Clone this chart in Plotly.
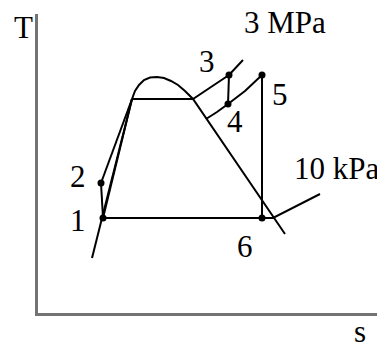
import plotly.graph_objects as go

# sketch coordinates: s (entropy) and T (temperature), arbitrary units
sat_liq_s = [54, 94]
sat_liq_T = [55, 214]

dome_s = [94, 97, 101, 106, 112, 119, 126, 133, 140, 147, 155, 247]
dome_T = [214, 222, 228, 233, 235.5, 236, 235, 232, 228, 222, 214, 79]

comp_liq_s = [63, 94]      # 2 -> saturated liquid at 3 MPa
comp_liq_T = [130, 214]
low_liq_s = [65, 94]
low_liq_T = [95, 214]

hp_s = [94, 155, 173, 191, 205]          # 3 MPa isobar
hp_T = [214, 214, 226, 238, 253]
mp_s = [168, 179, 190, 207, 224]         # reheat pressure isobar
mp_T = [194, 201, 209, 222, 238]
lp_s = [65, 235, 282]                    # 10 kPa isobar
lp_T = [95, 95, 119]

pump_s = [65, 63]
pump_T = [95, 130]
hpt_s = [191, 190]
hpt_T = [238, 209]
lpt_s = [224, 224]
lpt_T = [238, 95]

state_names = ["1", "2", "3", "4", "5", "6"]
state_s = [65, 63, 191, 190, 224, 224]
state_T = [95, 130, 238, 209, 238, 95]

labels = ["3 MPa", "3", "5", "4", "2", "1", "10 kPa", "6"]
label_s = [247, 169, 242, 197, 40, 40, 298, 207]
label_T = [291, 252, 219, 192, 137, 93, 145, 67]

# axis titles sit outside the plot area (paper coords)
axis_titles = ["T", "s"]
axis_title_x = [-0.0732, 0.907]
axis_title_y = [1.02, -0.127]
axis_title_xanchor = ["left", "center"]
axis_title_yanchor = ["top", "bottom"]

FONT = dict(family="Liberation Serif", size=31, color="black")

line = dict(color="black", width=2)
fig = go.Figure()
for xs, ys in [(sat_liq_s, sat_liq_T), (dome_s, dome_T), (comp_liq_s, comp_liq_T),
               (low_liq_s, low_liq_T), (hp_s, hp_T), (mp_s, mp_T), (lp_s, lp_T),
               (pump_s, pump_T), (hpt_s, hpt_T), (lpt_s, lpt_T)]:
    fig.add_trace(go.Scatter(x=xs, y=ys, mode="lines", line=line, hoverinfo="skip"))

fig.add_trace(go.Scatter(x=state_s, y=state_T, mode="markers", text=state_names,
                         marker=dict(color="black", size=7)))

for txt, xs, ys in zip(labels, label_s, label_T):
    fig.add_annotation(x=xs, y=ys, text=txt, showarrow=False, font=FONT)

for txt, xs, ys, xa, ya in zip(axis_titles, axis_title_x, axis_title_y,
                               axis_title_xanchor, axis_title_yanchor):
    fig.add_annotation(x=xs, y=ys, xref="paper", yref="paper", text=txt,
                       xanchor=xa, yanchor=ya, showarrow=False, font=FONT)

fig.update_xaxes(range=[0, 355], showline=True, linecolor="#737373", linewidth=3,
                 showgrid=False, zeroline=False, showticklabels=False, ticks="")
fig.update_yaxes(range=[0, 299], showline=True, linecolor="#737373", linewidth=3,
                 showgrid=False, zeroline=False, showticklabels=False, ticks="")
# page body adds an 8px offset, so margins are shifted to compensate
fig.update_layout(width=385, height=347, margin=dict(l=30, r=0, t=6, b=42),
                  showlegend=False, plot_bgcolor="white", paper_bgcolor="white")

fig.write_html("out.html")
